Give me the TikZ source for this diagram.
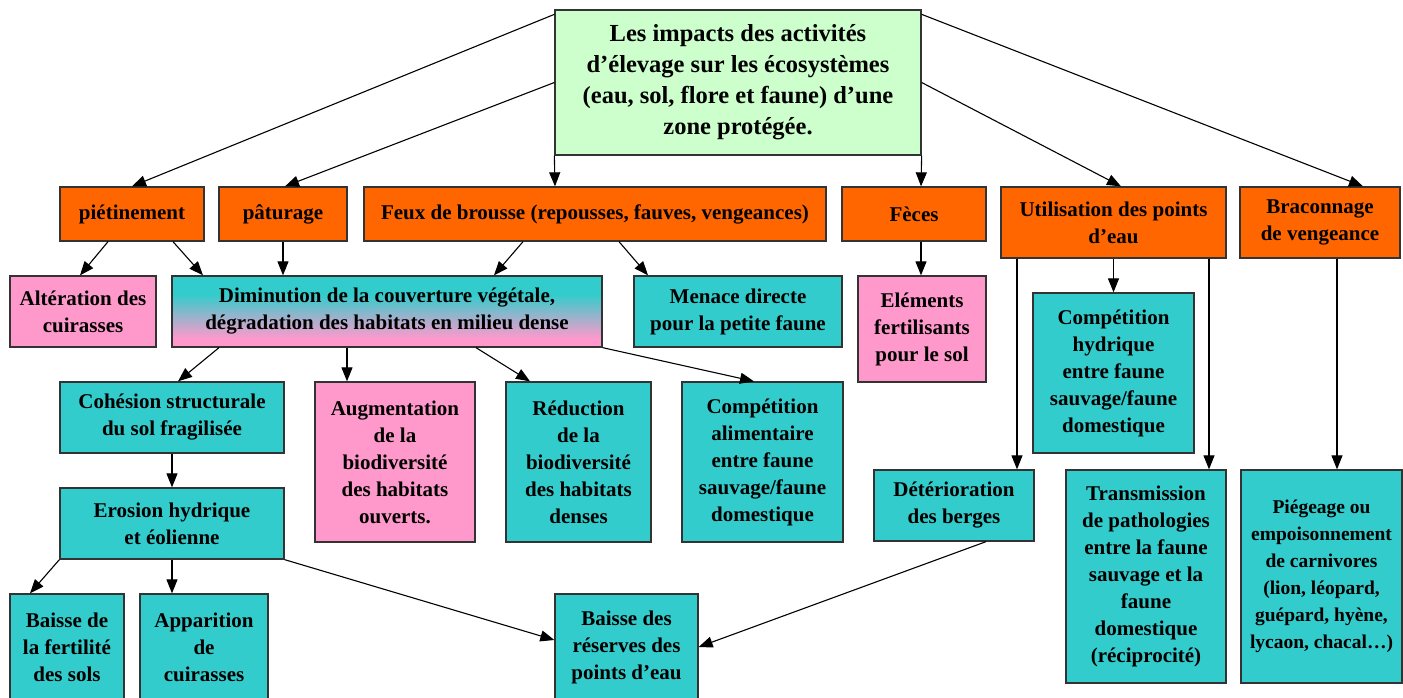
\documentclass[tikz,border=0pt]{standalone}
\usepackage{fontspec}
\setmainfont{Liberation Serif}
\usetikzlibrary{arrows.meta,shadings}
\definecolor{orng}{HTML}{FF6600}
\definecolor{cyn}{HTML}{33CCCC}
\definecolor{pnk}{HTML}{FF99CC}
\definecolor{lgrn}{HTML}{CCFFCC}
\definecolor{edge}{HTML}{333333}
\pgfdeclareverticalshading{cyanpink}{100bp}{color(0bp)=(pnk); color(31bp)=(pnk); color(62bp)=(cyn); color(100bp)=(cyn)}
\tikzset{
  bx/.style={draw=edge, line width=1.3pt, inner sep=0pt, align=center,
    font=\bfseries\fontsize{21}{27}\selectfont},
  og/.style={bx, fill=orng},
  cy/.style={bx, fill=cyn},
  pk/.style={bx, fill=pnk},
  arr/.style={line width=1.1pt, draw=black, -{Triangle[length=14pt,width=11pt]}},
  sz/.style 2 args={minimum width=#1pt, minimum height=#2pt}
}
\begin{document}
\begin{tikzpicture}[x=1pt,y=-1pt]
\useasboundingbox (0,0) rectangle (1403,698);
\fill[white] (0,0) rectangle (1403,698);
\clip (0,0) rectangle (1403,698);

% title
\node[bx, fill=lgrn, sz={366}{145}, font=\bfseries\fontsize{24.5}{31}\selectfont] (title) at (738,82.5)
  {Les impacts des activités\\d’élevage sur les écosystèmes\\(eau, sol, flore et faune) d’une\\zone protégée.};

% row 2
\node[og, sz={144}{54}] (pie) at (132,214) {piétinement};
\node[og, sz={128}{54}] (pat) at (283,214) {pâturage};
\node[og, sz={462}{54}] (feux) at (595,214) {Feux de brousse (repousses, fauves, vengeances)};
\node[og, sz={144}{54}] (feces) at (914,214) {Fèces};
\node[og, sz={225}{71}] (util) at (1113.5,222.5) {Utilisation des points\\d’eau};
\node[og, sz={160}{71}] (brac) at (1320,222.5) {Braconnage\\de vengeance};

% row 3
\node[pk, sz={146}{71}] (alt) at (83,311.5) {Altération des\\cuirasses};
\node[bx, shading=cyanpink, sz={430}{71}] (dim) at (387,311.5) {Diminution de la couverture végétale,\\dégradation des habitats en milieu dense};
\node[cy, sz={208}{71}] (men) at (738,311.5) {Menace directe\\pour la petite faune};
\node[pk, sz={128}{106}] (elem) at (922,329) {Eléments\\fertilisants\\pour le sol};
\node[cy, sz={161}{160}] (comph) at (1113.5,373) {Compétition\\hydrique\\entre faune\\sauvage/faune\\domestique};

% row 4
\node[cy, sz={224}{71}] (coh) at (172,417.5) {Cohésion structurale\\du sol fragilisée};
\node[pk, sz={160}{160}] (aug) at (395,462) {Augmentation\\de la\\biodiversité\\des habitats\\ouverts.};
\node[cy, sz={145}{160}] (red) at (578.5,462) {Réduction\\de la\\biodiversité\\des habitats\\denses};
\node[cy, sz={161}{160}] (compa) at (762.5,462) {Compétition\\alimentaire\\entre faune\\sauvage/faune\\domestique};
\node[cy, sz={224}{71}] (ero) at (172,523.5) {Erosion hydrique\\et éolienne};
\node[cy, sz={160}{71}] (det) at (954,505.5) {Détérioration\\des berges};
\node[cy, sz={160}{213}] (trans) at (1146,576.5) {Transmission\\de pathologies\\entre la faune\\sauvage et la\\faune\\domestique\\(réciprocité)};
\node[cy, sz={161}{213}, font=\bfseries\fontsize{19.5}{27}\selectfont] (pieg) at (1321.5,576.5) {Piégeage ou\\empoisonnement\\de carnivores\\(lion, léopard,\\guépard, hyène,\\lycaon, chacal…)};

% row 5
\node[cy, sz={114}{106}] (bf) at (67,647) {Baisse de\\la fertilité\\des sols};
\node[cy, sz={128}{106}] (app) at (204,647) {Apparition\\de\\cuirasses};
\node[cy, sz={143}{106}] (bre) at (626.5,647) {Baisse des\\réserves des\\points d’eau};

% connectors from title
\draw[arr] ([yshift=-5pt]title.north west) -- (pie.north);
\draw[arr] (title.west) -- ([xshift=2pt]pat.north);
\draw[arr] (title.south west) -- ([xshift=-40pt]feux.north);
\draw[arr] (title.south east) -- ([xshift=7pt]feces.north);
\draw[arr] (title.east) -- ([xshift=7.5pt]util.north);
\draw[arr] ([yshift=-5pt]title.north east) -- ([xshift=43pt]brac.north);

% row 2 to row 3
\draw[arr] ([xshift=-24pt]pie.south) -- ([xshift=-3pt]alt.north);
\draw[arr] ([xshift=41pt]pie.south) -- ([xshift=-184pt]dim.north);
\draw[arr] (pat.south) -- ([xshift=-104pt]dim.north);
\draw[arr] ([xshift=-72pt]feux.south) -- ([xshift=107pt]dim.north);
\draw[arr] ([xshift=24pt]feux.south) -- ([xshift=-90pt]men.north);
\draw[arr] ([xshift=7pt]feces.south) -- ([xshift=7pt]feces.south |- elem.north);
\draw[arr] (util.south) -- (comph.north);
\draw[arr] ([xshift=-96.5pt]util.south) -- ([xshift=-96.5pt]util.south |- det.north);
\draw[arr] ([xshift=95.5pt]util.south) -- ([xshift=95.5pt]util.south |- trans.north);
\draw[arr] ([xshift=17pt]brac.south) -- ([xshift=17pt]brac.south |- pieg.north);

% from Diminution
\draw[arr] ([xshift=-168pt]dim.south) -- ([xshift=6pt]coh.north);
\draw[arr] ([xshift=-40pt]dim.south) -- ([xshift=-40pt]dim.south |- aug.north);
\draw[arr] ([xshift=89pt]dim.south) -- ([xshift=-48.5pt]red.north);
\draw[arr] (dim.south east) -- ([xshift=-8.5pt]compa.north);

% soil chain
\draw[arr] (coh.south) -- (ero.north);
\draw[arr] (ero.south west) -- ([xshift=-37pt]bf.north);
\draw[arr] (ero.south) -- (ero.south |- app.north);
\draw[arr] (ero.south east) -- ([yshift=7pt]bre.west);
\draw[arr] ([xshift=32pt]det.south) -- (bre.east);
\end{tikzpicture}
\end{document}
